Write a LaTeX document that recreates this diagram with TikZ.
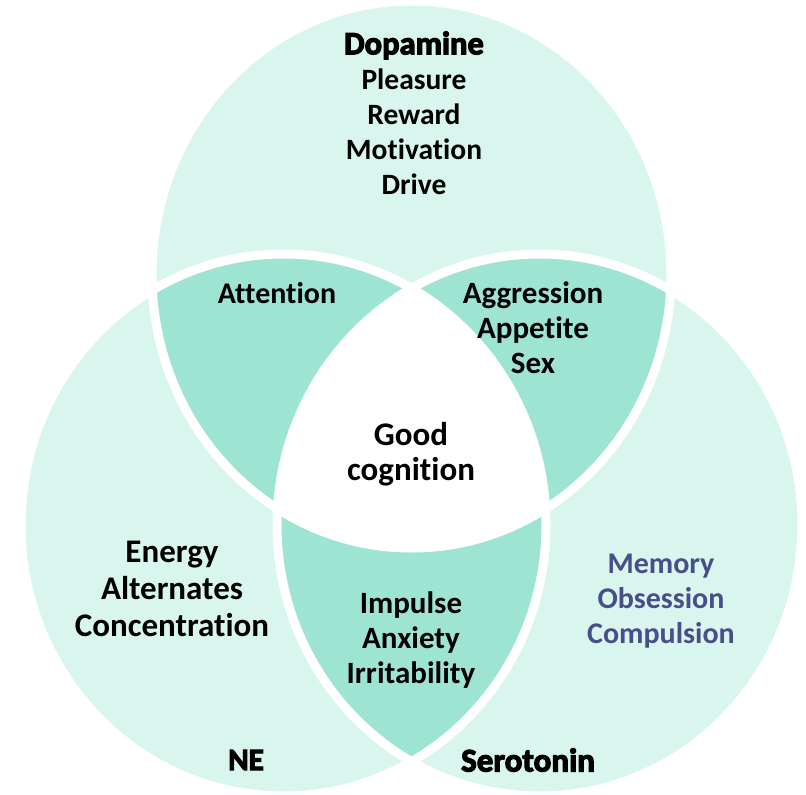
\documentclass[tikz,border=0pt]{standalone}
\usepackage{fontspec}
\setmainfont{Carlito}[Ligatures=NoCommon]
\newfontfamily\heavyfont{Carlito}[FakeBold=3.5,Ligatures=NoCommon]
\definecolor{mintlight}{RGB}{217,246,238}
\definecolor{mintdark}{RGB}{158,228,210}
\definecolor{slate}{RGB}{72,78,135}
\newcommand\dopashape{(411.5,274.5) ellipse [x radius=259.5pt, y radius=273.5pt]}
\newcommand\neshape{(283.5,525) ellipse [x radius=262.5pt, y radius=271pt]}
\newcommand\serashape{(539.5,525) ellipse [x radius=262.5pt, y radius=271pt]}

\begin{document}
\begin{tikzpicture}[x=1pt, y=-1pt, lbl/.style={align=center,inner sep=0pt,font=\bfseries\fontsize{31}{35}\selectfont}, title/.style={lbl,font=\heavyfont\bfseries\fontsize{33}{35}\selectfont}, gap/.style={draw=white,line width=9pt}]
\useasboundingbox (0,0) rectangle (806,795);
\fill[mintlight] \dopashape; \fill[mintlight] \neshape; \fill[mintlight] \serashape;
\begin{scope} \clip \dopashape; \fill[mintdark] \neshape; \fill[mintdark] \serashape; \end{scope}
\begin{scope} \clip \neshape; \fill[mintdark] \serashape; \end{scope}
\begin{scope} \clip \dopashape; \clip \neshape; \fill[white] \serashape; \end{scope}
\draw[gap] \dopashape; \draw[gap] \neshape; \draw[gap] \serashape;
\node[lbl,font=\bfseries\fontsize{29.5}{35}\selectfont] (dopa) at (414,113) {{\heavyfont\bfseries\fontsize{32.5}{35}\selectfont Dopamine}\\Pleasure\\Reward\\Motivation\\Drive};
\node[lbl,font=\bfseries\fontsize{30}{35}\selectfont] (attn) at (277,293) {Attention};
\node[lbl] (aggr) at (533,328) {Aggression\\Appetite\\Sex};
\node[lbl,font=\bfseries\fontsize{33}{35}\selectfont] (good) at (411,454) {Good\\cognition};
\node[lbl,font=\bfseries\fontsize{33}{37}\selectfont] (energy) at (172,589) {Energy\\Alternates\\Concentration};
\node[lbl] (impulse) at (411,640) {Impulse\\Anxiety\\Irritability};
\node[lbl,font=\bfseries\fontsize{30}{35}\selectfont,text=slate] (memory) at (661,601) {Memory\\Obsession\\Compulsion};
\node[title,font=\heavyfont\bfseries\fontsize{31}{35}\selectfont] (ne) at (246,760) {NE};
\node[title] (sero) at (528,760) {Serotonin};
\end{tikzpicture}
\end{document}
